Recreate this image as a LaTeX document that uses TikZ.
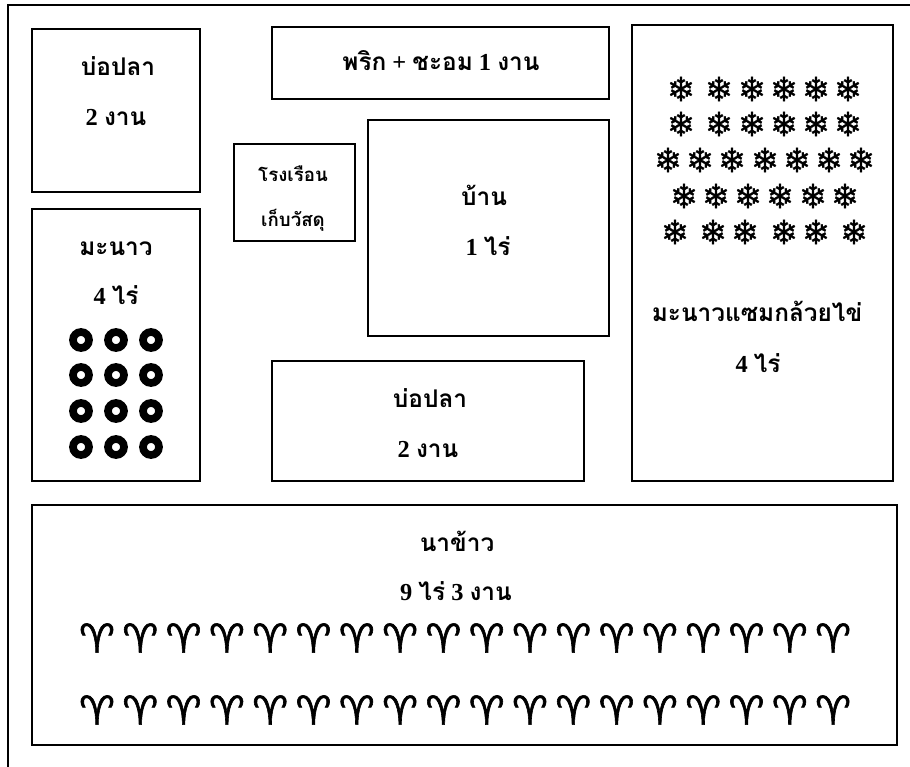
\documentclass[tikz,border=0pt]{standalone}
\usepackage{fontspec}
\setmainfont{Liberation Serif}
\newfontfamily\thaifont[Script=Thai]{Loma}
\newfontfamily\flakefont[FakeBold=0.8]{DejaVu Sans}
\newfontfamily\ramfont[FakeBold=1.5]{DejaVu Sans}
\newcommand{\thai}[1]{{\thaifont #1}}
\tikzset{
 plot/.style 2 args={draw=black,line width=1.1pt,inner sep=0pt,outer sep=0pt,minimum width=#1*0.75pt,minimum height=#2*0.75pt},
 lbl/.style={inner sep=0pt,yshift=1pt,font=\fontsize{18.3}{22}\bfseries},
 small/.style={lbl,font=\fontsize{14}{17}\bfseries},
 ring/.style={circle,draw=black,line width=5.8pt,minimum size=12pt,inner sep=0pt},
 flake/.style={inner sep=0pt,font=\flakefont\fontsize{25}{27}\selectfont},
 ram/.style={inner sep=0pt,font=\ramfont\fontsize{30}{32}\selectfont}
}

\begin{document}
\begin{tikzpicture}[x=0.75pt,y=-0.75pt]
\useasboundingbox (0,0) rectangle (910,767);
\coordinate (fa) at (8,767);
\coordinate (fb) at (8,5);
\coordinate (fc) at (910,5);
\draw[line width=1.1pt] (fa)--(fb)--(fc);
% plots
\node[plot={168}{163}] (pond) at (116,110.5) {};
\node[plot={168}{272}] (lime) at (116,345) {};
\node[plot={337}{72}] (chili) at (440.5,63) {};
\node[plot={121}{97}] (shed) at (294.5,192.5) {};
\node[plot={241}{216}] (house) at (488.5,228) {};
\node[plot={312}{120}] (pondb) at (428,421) {};
\node[plot={261}{456}] (banana) at (762.5,253) {};
\node[plot={865}{240}] (rice) at (464.5,625) {};
% labels
\node[lbl] (pondt) at (118,67) {\thai{บ่อปลา}};
\node[lbl] (pondn) at (116,119) {2 \thai{งาน}};
\node[lbl] (limet) at (116,250) {\thai{มะนาว}};
\node[lbl] (limen) at (116,296) {4 \thai{ไร่}};
\node[lbl] (chilit) at (441,62) {\thai{พริก} + \thai{ชะอม} 1 \thai{งาน}};
\node[small] (shedt) at (293,175) {\thai{โรงเรือน}};
\node[small] (shedn) at (293,222) {\thai{เก็บวัสดุ}};
\node[lbl] (houset) at (484,197) {\thai{บ้าน}};
\node[lbl] (housen) at (488,247) {1 \thai{ไร่}};
\node[lbl] (pondbt) at (430,399) {\thai{บ่อปลา}};
\node[lbl] (pondbn) at (428,451) {2 \thai{งาน}};
\node[lbl] (banant) at (757,313) {\thai{มะนาวแซมกล้วยไข่}};
\node[lbl] (banann) at (758,364) {4 \thai{ไร่}};
\node[lbl] (ricet) at (457,543) {\thai{นาข้าว}};
\node[lbl] (ricen) at (456,592) {9 \thai{ไร่} 3 \thai{งาน}};
% trees
\foreach \y in {340,375,411,447}
 \foreach \x in {81,116,151}
  \node[ring] (r\x-\y) at (\x,\y) {};
\foreach \x in {681,719,752,784,816,848} \node[flake] at (\x,89) {❄};
\foreach \x in {681,719,752,784,816,848} \node[flake] at (\x,124) {❄};
\foreach \x in {668,700,732,765,797,829,861} \node[flake] at (\x,160) {❄};
\foreach \x in {684,716,748,780,813,845} \node[flake] at (\x,196) {❄};
\foreach \x in {675,713,745,784,816,854} \node[flake] at (\x,232) {❄};
\foreach \n in {0,...,17} {
 \node[ram] at (97+\n*43.3,638) {♈};
 \node[ram] at (97+\n*43.3,710) {♈};
}
\end{tikzpicture}
\end{document}
